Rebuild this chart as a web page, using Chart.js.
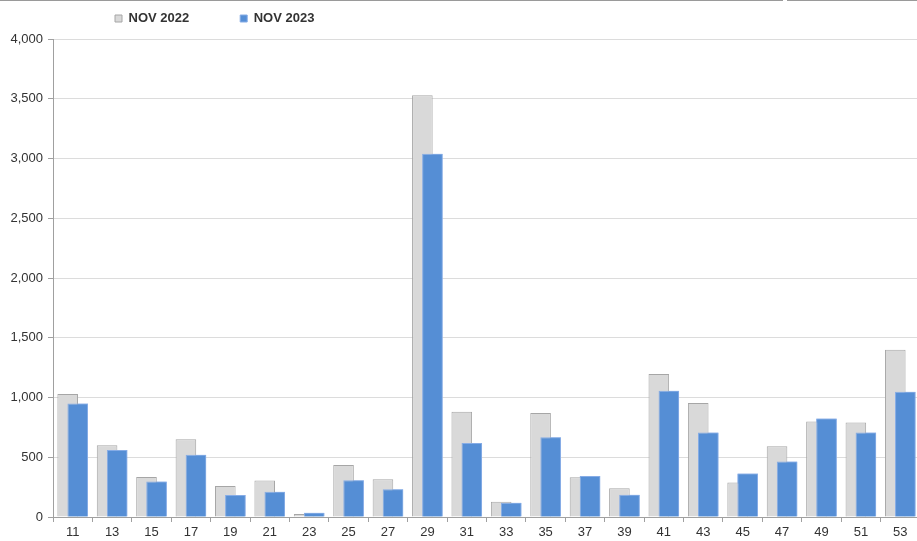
<!DOCTYPE html>
<html>
<head>
<meta charset="utf-8">
<script src="https://cdn.jsdelivr.net/npm/chart.js@4/dist/chart.umd.min.js"></script>
<style>
  html, body { margin: 0; padding: 0; background: #fff; overflow: hidden; }
  #wrap { position: relative; width: 917px; height: 541px; overflow: hidden; }
  canvas { position: absolute; left: 0; top: 0; }
  .rule { position: absolute; top: 0; height: 1px; background: #9a9a9a; }
</style>
</head>
<body>
<div id="wrap">
  <canvas id="chart" width="920" height="541"></canvas>
  <div class="rule" style="left:0;width:783px"></div>
  <div class="rule" style="left:787px;width:130px"></div>
</div>
<script>
// Category labels (x axis)
const categories = ['11','13','15','17','19','21','23','25','27','29','31','33','35','37','39','41','43','45','47','49','51','53'];

// Series values
const nov2022 = [1030, 600, 335, 650, 260, 305, 25, 435, 315, 3530, 880, 128, 870, 333, 240, 1197, 955, 288, 593, 800, 790, 1400];
const nov2023 = [950, 560, 298, 520, 185, 212, 36, 308, 232, 3040, 620, 120, 668, 344, 187, 1057, 707, 363, 464, 825, 707, 1049];

// Y axis tick values
const yTicks = [0, 500, 1000, 1500, 2000, 2500, 3000, 3500, 4000];

const AXIS_GREY = '#a0a0a0';
const TEXT = '#333333';
const FONT = 'Liberation Sans, Arial, sans-serif';

// Places the legend at a fixed spot above the plot and fixes its height
const legendPlacer = {
  id: 'legendPlacer',
  beforeUpdate(chart) {
    const lg = chart.legend;
    if (lg && !lg._fixedFit) {
      const fit = lg.fit.bind(lg);
      lg.fit = function () { fit(); this.height = 39; };
      lg._fixedFit = true;
    }
  },
  afterLayout(chart) {
    const lg = chart.legend;
    if (!lg) return;
    const pad = lg.options.labels.padding;
    lg.left = 115 - pad;
    lg.top = 20 - pad - 8;
  }
};

// The overlapping 2023 bars are painted again so they sit over the 2022 bars
const frontSeries = {
  id: 'frontSeries',
  afterDatasetsDraw(chart) {
    const meta = chart.getDatasetMeta(1);
    if (meta.visible) meta.controller.draw();
  }
};

const fmt = v => v.toLocaleString('en-US');

new Chart(document.getElementById('chart'), {
  type: 'bar',
  data: {
    labels: categories,
    datasets: [
      {
        label: 'NOV 2022', data: nov2022,
        backgroundColor: '#d9d9d9', borderColor: '#a6a6a6', borderWidth: 1
      },
      {
        label: 'NOV 2023', data: nov2023,
        backgroundColor: '#558ed5', borderColor: '#86ace6', borderWidth: 1
      }
    ]
  },
  options: {
    responsive: false,
    animation: false,
    layout: { padding: 0 },
    datasets: {
      bar: { categoryPercentage: 0.51, barPercentage: 2.05 }
    },
    plugins: {
      tooltip: { enabled: false },
      legend: {
        position: 'top',
        align: 'start',
        labels: {
          boxWidth: 7,
          boxHeight: 7,
          padding: 51,
          color: TEXT,
          font: { family: FONT, size: 13, weight: 'bold' }
        }
      }
    },
    scales: {
      x: {
        type: 'category',
        offset: true,
        grid: {
          display: true, offset: true, drawOnChartArea: false, drawTicks: true,
          tickLength: 5, tickColor: AXIS_GREY, color: AXIS_GREY
        },
        border: { display: true, color: AXIS_GREY, width: 1 },
        ticks: {
          color: TEXT, padding: 3, maxRotation: 0, autoSkip: false,
          font: { family: FONT, size: 13 }
        },
        afterFit: s => { s.height = 24; }
      },
      y: {
        min: 0,
        max: 4000,
        afterBuildTicks: s => { s.ticks = yTicks.map(v => ({ value: v })); },
        grid: { color: '#dcdcdc', tickColor: AXIS_GREY, tickLength: 5, lineWidth: 1 },
        border: { display: true, color: AXIS_GREY, width: 1 },
        ticks: {
          color: TEXT, padding: 5,
          font: { family: FONT, size: 13 },
          callback: v => fmt(v)
        },
        afterFit: s => { s.width = 53; }
      }
    }
  },
  plugins: [legendPlacer, frontSeries]
});
</script>
</body>
</html>
